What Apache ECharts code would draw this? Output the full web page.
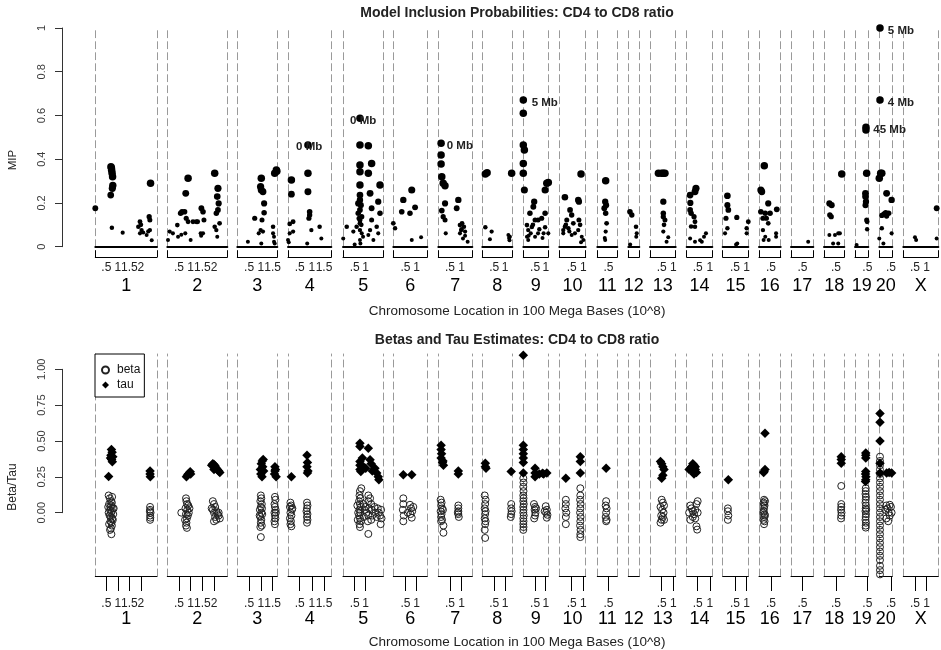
<!DOCTYPE html>
<html><head><meta charset="utf-8">
<script src="https://cdn.jsdelivr.net/npm/echarts@6/dist/echarts.min.js"></script>
<style>html,body{margin:0;padding:0;background:#fff}#c{width:941px;height:650px}</style>
</head><body><div id="c"></div>
<script>
// ---------------- DATA ----------------
const chromosomes = ['1','2','3','4','5','6','7','8','9','10','11','12','13','14','15','16','17','18','19','20','X'];
// x tick values (100 Mb units) per chromosome
const chromTicks = [[.5,1,1.5,2],[.5,1,1.5,2],[.5,1,1.5],[.5,1,1.5],[.5,1,1.5],[.5,1],[.5,1],[.5,1],[.5,1],[.5,1],[.5],[],[.5,1],[.5,1],[.5,1],[.5],[.5],[.5],[.5],[.5],[.5,1]];
// displayed position range (100 Mb units) per chromosome panel
const posMin = [0.02,0.00,0.00,0.02,-0.03,-0.05,0.00,-0.05,-0.05,-0.03,0.02,0.02,0.00,0.05,-0.02,-0.02,0.01,-0.01,-0.03,-0.01,0.00];
const posMax = [2.70,2.57,1.70,1.80,1.80,1.48,1.46,1.33,1.12,1.10,0.88,0.49,1.10,1.10,1.07,0.92,0.97,0.86,0.54,0.56,1.50];
const mipTicks = [0,0.2,0.4,0.6,0.8,1];
const betaTauTicks = [0,0.25,0.5,0.75,1];

// [chromosome, position (100 Mb), MIP]
const mipPoints = [
['1',0.02,0.176],['1',0.70,0.366],['1',0.72,0.36],['1',0.73,0.35],['1',0.75,0.336],['1',0.77,0.32],['1',0.78,0.28],['1',0.76,0.267],['1',0.69,0.236],['1',0.74,0.087],['1',1.21,0.064],['1',2.42,0.29],['1',1.96,0.114],['1',1.89,0.091],['1',1.96,0.061],['1',2.25,0.053],['1',2.36,0.137],['1',2.39,0.122],['1',2.39,0.076],['1',2.47,0.03],['1',2.03,0.076],['1',2.32,0.07],['1',2.00,0.100],['1',2.10,0.065],
['2',0.03,0.031],['2',0.10,0.069],['2',0.24,0.061],['2',0.43,0.099],['2',0.46,0.046],['2',0.57,0.153],['2',0.63,0.16],['2',0.74,0.16],['2',0.77,0.061],['2',0.79,0.244],['2',0.89,0.313],['2',0.81,0.13],['2',0.89,0.114],['2',1.00,0.031],['2',1.10,0.114],['2',1.24,0.114],['2',1.30,0.114],['2',1.43,0.061],['2',1.46,0.176],['2',1.53,0.16],['2',1.57,0.122],['2',1.53,0.061],['2',2.03,0.336],['2',2.17,0.267],['2',2.14,0.229],['2',2.20,0.198],['2',2.17,0.168],['2',2.10,0.153],['2',2.24,0.107],['2',2.10,0.076],['2',2.14,0.046],['2',2.03,0.091],['2',0.60,0.055],['2',1.45,0.05],
['3',0.45,0.023],['3',0.74,0.13],['3',1.02,0.313],['3',0.99,0.274],['3',1.02,0.259],['3',1.09,0.251],['3',1.14,0.198],['3',1.14,0.155],['3',1.05,0.122],['3',0.99,0.076],['3',1.09,0.069],['3',0.91,0.061],['3',1.52,0.091],['3',1.52,0.061],['3',1.56,0.046],['3',1.56,0.023],['3',1.66,0.351],['3',1.59,0.336],['3',1.68,0.345],['3',1.02,0.015],['3',1.59,0.015],
['4',0.16,0.305],['4',0.16,0.24],['4',0.23,0.114],['4',0.09,0.104],['4',0.09,0.061],['4',0.23,0.069],['4',0.02,0.031],['4',0.84,0.465],['4',0.84,0.336],['4',0.84,0.251],['4',0.91,0.16],['4',0.91,0.145],['4',0.88,0.13],['4',0.98,0.076],['4',0.81,0.015],['4',1.32,0.091],['4',1.39,0.038],['4',0.05,0.02],
['5',0.74,0.587],['5',0.74,0.465],['5',1.12,0.462],['5',0.74,0.374],['5',1.27,0.381],['5',0.74,0.343],['5',1.12,0.336],['5',1.65,0.282],['5',0.74,0.282],['5',1.20,0.244],['5',0.74,0.236],['5',0.74,0.214],['5',0.66,0.198],['5',1.57,0.206],['5',1.27,0.176],['5',0.74,0.168],['5',0.66,0.153],['5',0.82,0.137],['5',0.74,0.122],['5',0.74,0.107],['5',0.59,0.091],['5',0.74,0.076],['5',0.44,0.069],['5',0.82,0.061],['5',0.88,0.046],['5',0.74,0.031],['5',0.14,0.091],['5',-0.02,0.038],['5',1.65,0.153],['5',1.50,0.091],['5',1.57,0.061],['5',1.20,0.076],['5',1.35,0.031],['5',1.12,0.053],['5',1.27,0.122],['5',0.78,0.19],['5',0.70,0.13],['5',0.80,0.10],['5',0.76,0.015],['5',0.50,0.01],
['6',-0.05,0.107],['6',0.03,0.084],['6',0.40,0.214],['6',0.33,0.16],['6',0.70,0.153],['6',0.78,0.259],['6',0.93,0.18],['6',0.78,0.031],['6',1.20,0.043],
['7',0.12,0.473],['7',0.12,0.419],['7',0.12,0.378],['7',0.15,0.32],['7',0.21,0.29],['7',0.29,0.279],['7',0.29,0.198],['7',0.15,0.165],['7',0.21,0.137],['7',0.29,0.122],['7',0.32,0.061],['7',0.86,0.214],['7',0.79,0.176],['7',0.93,0.099],['7',1.02,0.107],['7',1.10,0.091],['7',0.98,0.076],['7',1.15,0.069],['7',0.93,0.061],['7',1.06,0.038],['7',1.26,0.023],['7',1.15,0.05],['7',1.00,0.08],
['8',0.09,0.332],['8',0.17,0.338],['8',0.09,0.089],['8',0.38,0.069],['8',0.30,0.034],['8',1.30,0.336],['8',1.15,0.053],['8',1.22,0.046],['8',1.18,0.04],['8',1.20,0.03],
['9',-0.05,0.671],['9',-0.05,0.61],['9',-0.05,0.465],['9',0.00,0.442],['9',-0.05,0.381],['9',-0.05,0.336],['9',0.00,0.259],['9',0.46,0.206],['9',0.42,0.183],['9',0.26,0.153],['9',0.50,0.122],['9',0.64,0.122],['9',0.81,0.13],['9',0.97,0.153],['9',1.05,0.29],['9',1.12,0.293],['9',0.97,0.259],['9',0.12,0.099],['9',0.18,0.076],['9',0.30,0.061],['9',0.64,0.061],['9',0.90,0.061],['9',0.12,0.046],['9',0.50,0.046],['9',0.18,0.031],['9',1.12,0.061],['9',0.97,0.089],['9',0.35,0.09],['9',0.70,0.08],['9',0.40,0.10],['9',0.85,0.04],['9',0.20,0.05],
['10',0.21,0.226],['10',0.43,0.168],['10',0.50,0.145],['10',0.29,0.122],['10',0.21,0.091],['10',0.14,0.076],['10',0.36,0.084],['10',0.57,0.107],['10',0.64,0.061],['10',0.50,0.053],['10',0.78,0.214],['10',0.81,0.206],['10',0.90,0.332],['10',0.81,0.122],['10',0.78,0.076],['10',0.93,0.046],['10',1.00,0.031],['10',0.14,0.061],['10',0.25,0.10],['10',0.40,0.07],['10',0.86,0.10],['10',0.90,0.02],
['11',0.38,0.302],['11',0.36,0.206],['11',0.32,0.176],['11',0.38,0.153],['11',0.42,0.107],['11',0.38,0.069],['11',0.36,0.031],['11',0.40,0.19],['11',0.34,0.04],
['12',0.09,0.16],['12',0.17,0.145],['12',0.35,0.091],['12',0.38,0.061],['12',0.36,0.046],['12',0.10,0.01],
['13',0.36,0.336],['13',0.50,0.336],['13',0.57,0.336],['13',0.64,0.336],['13',0.57,0.206],['13',0.57,0.137],['13',0.64,0.122],['13',0.57,0.153],['13',0.57,0.069],['13',0.78,0.043],['13',0.71,0.023],['13',0.60,0.10],
['14',0.43,0.267],['14',0.39,0.251],['14',0.19,0.236],['14',0.19,0.168],['14',0.23,0.153],['14',0.35,0.137],['14',0.39,0.114],['14',0.39,0.091],['14',0.23,0.092],['14',0.19,0.038],['14',0.39,0.023],['14',0.67,0.023],['14',0.76,0.046],['14',0.84,0.061],['14',0.60,0.03],['14',0.20,0.20],
['15',0.18,0.233],['15',0.18,0.19],['15',0.22,0.168],['15',0.18,0.084],['15',0.08,0.061],['15',0.58,0.134],['15',0.60,0.015],['15',1.07,0.114],['15',1.00,0.084],['15',1.00,0.061],['15',0.12,0.13],['15',0.55,0.01],
['16',0.21,0.37],['16',0.06,0.259],['16',0.10,0.251],['16',0.38,0.198],['16',0.06,0.16],['16',0.25,0.153],['16',0.46,0.153],['16',0.75,0.171],['16',0.15,0.13],['16',0.30,0.13],['16',0.38,0.107],['16',0.15,0.076],['16',0.25,0.046],['16',0.18,0.031],['16',0.72,0.061],['16',0.72,0.046],['16',0.40,0.031],
['17',0.75,0.023],
['18',0.22,0.198],['18',0.32,0.19],['18',0.24,0.145],['18',0.30,0.137],['18',0.22,0.053],['18',0.46,0.053],['18',0.60,0.061],['18',0.67,0.061],['18',0.75,0.332],['18',0.38,0.015],['18',0.60,0.015],
['19',0.44,0.546],['19',0.44,0.534],['19',0.47,0.336],['19',0.42,0.244],['19',0.42,0.229],['19',0.44,0.206],['19',0.42,0.19],['19',0.47,0.122],['19',0.49,0.114],['19',0.49,0.08],['19',0.04,0.008],
['20',0.02,1.0],['20',0.02,0.671],['20',0.05,0.336],['20',0.10,0.336],['20',-0.01,0.313],['20',0.31,0.244],['20',0.53,0.214],['20',0.10,0.143],['20',0.27,0.155],['20',0.40,0.153],['20',0.31,0.14],['20',0.10,0.084],['20',0.53,0.061],['20',-0.01,0.038],['20',0.17,0.015],['20',0.20,0.15],
['X',0.50,0.043],['X',0.55,0.031],['X',1.43,0.176],['X',1.43,0.038]
];

// [chromosome, label anchor position, MIP height, text]
const peakLabels = [
['4',0.35,0.456,'0 Mb'],['5',0.29,0.575,'0 Mb'],['7',0.36,0.46,'0 Mb'],['9',0.34,0.657,'5 Mb'],
['19',0.755,0.534,'45 Mb'],['20',0.36,0.988,'5 Mb'],['20',0.36,0.656,'4 Mb']
];

// [chromosome, position, beta]
const betaPoints = [
['1',0.60,0.12],['1',0.65,0.10],['1',0.70,0.08],['1',0.75,0.11],['1',0.62,0.06],['1',0.68,0.04],['1',0.72,0.05],['1',0.78,0.03],['1',0.66,0.02],['1',0.70,0.00],['1',0.74,0.01],['1',0.80,-0.01],['1',0.64,-0.02],['1',0.70,-0.03],['1',0.76,-0.04],['1',0.68,-0.06],['1',0.72,-0.07],['1',0.62,-0.08],['1',0.74,-0.09],['1',0.70,-0.11],['1',0.66,-0.12],['1',0.72,-0.15],['1',0.60,0.00],['1',0.82,0.03],['1',0.78,-0.05],['1',0.58,0.04],['1',0.74,0.07],
['1',2.40,0.04],['1',2.40,0.02],['1',2.42,0.00],['1',2.40,-0.02],['1',2.41,-0.035],['1',2.40,-0.05],['1',2.39,0.01],
['2',0.80,0.10],['2',0.82,0.08],['2',0.85,0.06],['2',0.90,0.05],['2',0.78,0.03],['2',0.86,0.02],['2',0.92,0.00],['2',0.80,-0.01],['2',0.88,-0.02],['2',0.84,-0.04],['2',0.76,-0.05],['2',0.82,-0.07],['2',0.80,-0.09],['2',0.84,-0.106],['2',0.95,0.03],['2',0.60,0.00],
['2',1.95,0.08],['2',2.00,0.06],['2',2.05,0.04],['2',1.95,0.02],['2',2.10,0.01],['2',2.00,0.00],['2',2.15,-0.01],['2',2.20,-0.02],['2',2.05,-0.03],['2',2.25,-0.04],['2',2.10,-0.05],['2',2.00,-0.06],['2',2.20,0.00],['2',1.90,0.03],
['3',1.00,0.12],['3',1.02,0.10],['3',0.98,0.08],['3',1.04,0.06],['3',1.00,0.04],['3',0.96,0.02],['3',1.02,0.00],['3',1.06,-0.01],['3',0.98,-0.03],['3',1.02,-0.05],['3',1.00,-0.07],['3',1.04,-0.09],['3',0.98,-0.10],['3',1.00,-0.17],['3',1.05,0.03],['3',0.95,-0.02],
['3',1.60,0.11],['3',1.62,0.09],['3',1.58,0.06],['3',1.60,0.04],['3',1.63,0.02],['3',1.58,0.00],['3',1.60,-0.02],['3',1.62,-0.04],['3',1.58,-0.06],['3',1.60,-0.08],['3',1.64,0.00],
['4',0.12,0.07],['4',0.15,0.05],['4',0.10,0.04],['4',0.18,0.02],['4',0.12,0.00],['4',0.16,-0.02],['4',0.10,-0.04],['4',0.14,-0.06],['4',0.12,-0.08],['4',0.16,-0.095],['4',0.20,0.03],
['4',0.80,0.07],['4',0.82,0.05],['4',0.80,0.03],['4',0.78,0.01],['4',0.82,-0.01],['4',0.80,-0.03],['4',0.82,-0.05],['4',0.80,-0.07],
['5',0.74,0.15],['5',0.72,0.12],['5',0.76,0.10],['5',0.70,0.08],['5',0.74,0.06],['5',0.78,0.04],['5',0.72,0.02],['5',0.76,0.00],['5',0.70,-0.02],['5',0.74,-0.04],['5',0.78,-0.06],['5',0.72,-0.08],['5',0.74,-0.10],['5',0.62,0.05],['5',0.66,0.00],['5',0.64,-0.05],['5',0.90,0.06],['5',0.95,0.02],['5',0.92,-0.03],['5',1.00,0.04],['5',1.05,0.00],['5',1.12,0.12],['5',1.12,0.08],['5',1.15,0.03],['5',1.12,-0.02],['5',1.10,-0.06],['5',1.12,-0.148],['5',1.20,0.10],['5',1.25,0.06],['5',1.28,0.02],['5',1.30,-0.02],['5',1.25,-0.05],['5',1.40,0.04],['5',1.45,0.00],['5',1.50,-0.03],['5',1.55,0.03],['5',1.60,0.00],['5',1.65,-0.02],['5',1.70,0.02],['5',1.72,-0.04],['5',1.68,-0.08],['5',0.80,0.17],
['6',0.40,0.10],['6',0.40,0.06],['6',0.38,0.02],['6',0.42,-0.02],['6',0.40,-0.06],['6',0.70,0.055],['6',0.75,0.03],['6',0.80,0.01],['6',0.72,-0.01],['6',0.78,-0.035],['6',0.85,0.04],['6',0.60,0.00],
['7',0.10,0.09],['7',0.14,0.07],['7',0.12,0.05],['7',0.16,0.03],['7',0.10,0.01],['7',0.14,-0.01],['7',0.12,-0.03],['7',0.16,-0.05],['7',0.12,-0.06],['7',0.22,-0.09],['7',0.22,-0.14],['7',0.20,0.02],['7',0.86,0.05],['7',0.86,0.03],['7',0.86,0.01],['7',0.86,-0.01],['7',0.88,-0.03],['7',0.84,0.00],
['8',0.06,0.12],['8',0.10,0.09],['8',0.08,0.06],['8',0.06,0.03],['8',0.10,0.01],['8',0.08,-0.01],['8',0.06,-0.04],['8',0.10,-0.06],['8',0.08,-0.08],['8',0.06,-0.12],['8',0.08,-0.176],['8',1.28,0.06],['8',1.28,0.03],['8',1.30,0.01],['8',1.28,-0.01],['8',1.26,-0.03],
['9',-0.05,0.24],['9',-0.04,0.21],['9',-0.05,0.18],['9',-0.04,0.15],['9',-0.05,0.12],['9',-0.04,0.10],['9',-0.05,0.08],['9',-0.03,0.06],['9',-0.05,0.04],['9',-0.04,0.02],['9',-0.05,0.00],['9',-0.03,-0.02],['9',-0.05,-0.04],['9',-0.04,-0.06],['9',-0.05,-0.08],['9',-0.04,-0.10],['9',-0.05,-0.12],
['9',0.45,0.06],['9',0.50,0.04],['9',0.48,0.02],['9',0.52,0.00],['9',0.50,-0.02],['9',0.46,-0.04],['9',0.55,0.03],['9',1.00,0.045],['9',1.05,0.02],['9',1.02,0.00],['9',1.08,-0.015],['9',1.05,-0.035],['9',0.95,0.01],
['10',0.25,0.09],['10',0.25,0.06],['10',0.23,0.03],['10',0.27,0.00],['10',0.25,-0.03],['10',0.25,-0.08],['10',0.87,0.17],['10',0.87,0.12],['10',0.86,0.09],['10',0.88,0.06],['10',0.87,0.03],['10',0.86,0.00],['10',0.88,-0.03],['10',0.87,-0.06],['10',0.86,-0.09],['10',0.88,-0.12],['10',0.87,-0.15],['10',0.87,-0.17],
['11',0.40,0.08],['11',0.38,0.05],['11',0.42,0.03],['11',0.40,0.00],['11',0.38,-0.03],['11',0.42,-0.05],['11',0.40,-0.06],
['13',0.50,0.09],['13',0.55,0.07],['13',0.60,0.05],['13',0.45,0.04],['13',0.52,0.02],['13',0.58,0.00],['13',0.48,-0.02],['13',0.55,-0.03],['13',0.60,-0.05],['13',0.45,-0.07],['13',0.50,-0.05],
['14',0.20,0.05],['14',0.25,0.03],['14',0.30,0.01],['14',0.35,-0.01],['14',0.40,0.02],['14',0.45,0.06],['14',0.50,0.08],['14',0.30,-0.03],['14',0.20,-0.05],['14',0.40,-0.04],['14',0.45,-0.095],['14',0.48,-0.118],['14',0.15,0.00],['14',0.50,0.00],
['15',0.20,0.03],['15',0.20,0.01],['15',0.22,-0.02],['15',0.20,-0.05],
['16',0.20,0.09],['16',0.18,0.07],['16',0.22,0.05],['16',0.20,0.03],['16',0.18,0.01],['16',0.22,-0.01],['16',0.20,-0.03],['16',0.18,-0.05],['16',0.22,-0.06],['16',0.20,-0.08],['16',0.24,0.08],['16',0.16,0.00],['16',0.24,-0.02],['16',0.20,0.06],
['18',0.73,0.186],['18',0.73,0.06],['18',0.73,0.04],['18',0.72,0.02],['18',0.74,0.00],['18',0.73,-0.02],['18',0.72,-0.04],
['19',0.43,0.17],['19',0.43,0.15],['19',0.42,0.13],['19',0.44,0.11],['19',0.43,0.09],['19',0.42,0.07],['19',0.44,0.05],['19',0.43,0.03],['19',0.42,0.01],['19',0.44,-0.01],['19',0.43,-0.03],['19',0.42,-0.05],['19',0.44,-0.07],['19',0.43,-0.09],['19',0.43,-0.104],['19',0.45,0.02],
['20',0.02,0.39],['20',0.02,0.36],['20',0.02,0.33],['20',0.02,0.30],['20',0.02,0.27],['20',0.02,0.24],['20',0.02,0.21],['20',0.02,0.18],['20',0.02,0.15],['20',0.02,0.12],['20',0.02,0.09],['20',0.02,0.06],['20',0.02,0.03],['20',0.02,0.00],['20',0.02,-0.03],['20',0.02,-0.06],['20',0.02,-0.09],['20',0.02,-0.12],['20',0.02,-0.15],['20',0.02,-0.18],['20',0.02,-0.21],['20',0.02,-0.24],['20',0.02,-0.27],['20',0.02,-0.30],['20',0.02,-0.33],['20',0.02,-0.37],['20',0.02,-0.40],['20',0.02,-0.43],
['20',0.30,0.05],['20',0.35,0.03],['20',0.40,0.00],['20',0.45,-0.02],['20',0.50,0.04],['20',0.53,0.00],['20',0.30,-0.04],['20',0.38,-0.06],['20',0.45,0.055],['20',0.25,0.02]
];

// [chromosome, position, tau]
const tauPoints = [
['1',0.60,0.252],['1',0.72,0.44],['1',0.75,0.42],['1',0.70,0.40],['1',0.78,0.39],['1',0.73,0.37],['1',0.76,0.355],['1',0.68,0.38],['1',2.40,0.29],['1',2.40,0.27],['1',2.41,0.25],
['2',0.82,0.25],['2',0.86,0.26],['2',0.90,0.27],['2',0.94,0.275],['2',0.98,0.285],['2',1.00,0.27],['2',1.95,0.34],['2',2.00,0.335],['2',2.05,0.325],['2',2.10,0.31],['2',2.15,0.30],['2',2.20,0.29],['2',2.25,0.28],['2',2.00,0.30],['2',1.90,0.33],
['3',0.98,0.30],['3',1.02,0.34],['3',1.06,0.36],['3',1.10,0.37],['3',1.00,0.27],['3',1.05,0.25],['3',1.08,0.32],['3',1.12,0.29],['3',1.60,0.32],['3',1.62,0.30],['3',1.58,0.27],['3',1.65,0.25],['3',1.60,0.29],
['4',0.16,0.25],['4',0.80,0.40],['4',0.82,0.35],['4',0.80,0.32],['4',0.84,0.29],['4',0.82,0.276],
['5',0.74,0.484],['5',0.74,0.46],['5',1.12,0.449],['5',0.74,0.356],['5',0.74,0.33],['5',0.74,0.30],['5',0.78,0.287],['5',1.20,0.368],['5',1.25,0.34],['5',1.42,0.31],['5',1.50,0.276],['5',1.57,0.25],['5',1.60,0.229],['5',0.90,0.32],['5',1.00,0.31],['5',1.30,0.29],['5',0.85,0.38],
['6',0.40,0.264],['6',0.78,0.264],
['7',0.12,0.47],['7',0.12,0.44],['7',0.14,0.41],['7',0.12,0.38],['7',0.18,0.35],['7',0.22,0.33],['7',0.20,0.36],['7',0.86,0.29],['7',0.86,0.27],
['8',0.09,0.345],['8',0.09,0.32],['8',0.12,0.31],['8',1.28,0.287],
['9',-0.05,1.097],['9',-0.05,0.47],['9',-0.05,0.44],['9',-0.05,0.41],['9',-0.05,0.38],['9',-0.05,0.35],['9',-0.05,0.276],['9',0.50,0.31],['9',0.50,0.276],['9',0.50,0.25],['9',1.05,0.276],['9',0.90,0.27],['9',0.70,0.27],['9',0.85,0.275],
['10',0.25,0.24],['10',0.87,0.39],['10',0.87,0.356],['10',0.87,0.276],
['11',0.40,0.31],
['13',0.45,0.356],['13',0.50,0.34],['13',0.55,0.32],['13',0.60,0.30],['13',0.55,0.26],['13',0.50,0.24],
['14',0.15,0.30],['14',0.20,0.31],['14',0.25,0.32],['14',0.30,0.34],['14',0.35,0.33],['14',0.40,0.30],['14',0.45,0.28],['14',0.35,0.27],['14',0.30,0.29],['14',0.40,0.32],
['15',0.22,0.229],
['16',0.24,0.553],['16',0.20,0.287],['16',0.24,0.30],['16',0.18,0.28],
['18',0.73,0.39],['18',0.73,0.37],['18',0.73,0.345],
['19',0.43,0.415],['19',0.43,0.40],['19',0.43,0.38],['19',0.43,0.287],['19',0.42,0.27],['19',0.44,0.25],['19',0.43,0.23],['19',0.42,0.217],
['20',0.02,0.69],['20',0.02,0.63],['20',0.02,0.50],['20',0.02,0.345],['20',0.02,0.276],['20',0.31,0.276],['20',0.53,0.276],['20',0.42,0.28]
];

// ---------------- LAYOUT (pixels) ----------------
const boxLeft  = [95.3,167.3,237.3,288,343,393.3,438.3,482.3,523.3,559.3,597.3,628.3,650,686.7,722.7,759,791,824,855,879.3,903.3];
const boxRight = [157,227.3,277.3,331.3,383.3,427.3,472.3,512.3,548.3,585.7,617.3,639.3,675.7,712.3,748.3,780.7,813.3,844.3,868.3,892.3,938.3];
const TOP = {top: 28, height: 218.7};
const BOT = {top: 354, height: 222};
const BOT_Y = {min: -0.441, max: 1.105};
const FONT = '"Liberation Sans", Arial, Helvetica, sans-serif';
const DASH = [7, 4];

const fmtTick = v => { const s = String(v); return s.indexOf('0.') === 0 ? s.slice(1) : s; };

const grids = [], xAxes = [], yAxes = [], series = [];
function addGrid(g) { grids.push(Object.assign({outerBoundsMode: 'none', containLabel: false}, g)); return grids.length - 1; }
function dashedY(gi, min, max, position) {
  return {gridIndex: gi, type: 'value', min, max, position,
    axisLine: {show: true, onZero: false, lineStyle: {color: '#9a9a9a', width: 1, type: DASH}},
    axisTick: {show: false}, axisLabel: {show: false}, splitLine: {show: false}};
}

// stand-alone y axes (left side)
let g = addGrid({left: 62, width: 20, top: TOP.top, height: TOP.height});
xAxes.push({gridIndex: g, type: 'value', show: false, min: 0, max: 1});
yAxes.push({gridIndex: g, type: 'value', min: 0, max: 1, position: 'left',
  axisLine: {show: true, onZero: false, lineStyle: {color: '#333'}},
  axisTick: {show: true, length: 7, customValues: mipTicks, lineStyle: {color: '#333'}},
  axisLabel: {rotate: 90, margin: 15, fontSize: 11, color: '#3c3c3c', fontFamily: FONT, customValues: mipTicks},
  splitLine: {show: false}});

g = addGrid({left: 62, width: 20, top: 369.3, height: 143.4});
xAxes.push({gridIndex: g, type: 'value', show: false, min: 0, max: 1});
yAxes.push({gridIndex: g, type: 'value', min: 0, max: 1, position: 'left',
  axisLine: {show: true, onZero: false, lineStyle: {color: '#333'}},
  axisTick: {show: true, length: 7, customValues: betaTauTicks, lineStyle: {color: '#333'}},
  axisLabel: {rotate: 90, margin: 15, fontSize: 11, color: '#3c3c3c', fontFamily: FONT, customValues: betaTauTicks, formatter: v => v.toFixed(2)},
  splitLine: {show: false}});

const mipSize = d => Math.max(4, Math.min(7.5, 3.2 + d[1] * 15));

chromosomes.forEach((chr, i) => {
  const L = boxLeft[i], W = boxRight[i] - boxLeft[i];
  const a = posMin[i], b = posMax[i];

  // ---- top panel ----
  const gt = addGrid({left: L, width: W, top: TOP.top, height: TOP.height});
  const xt = xAxes.length;
  xAxes.push({gridIndex: gt, type: 'value', min: a, max: b, position: 'bottom', offset: 10.5,
    axisLine: {show: true, onZero: false, lineStyle: {color: '#000', width: 1}},
    axisTick: {show: true, inside: true, length: 7, customValues: [a, b], lineStyle: {color: '#000'}},
    axisLabel: {show: true, customValues: chromTicks[i], formatter: fmtTick, margin: 4.5, fontSize: 12, color: '#222', fontFamily: FONT},
    splitLine: {show: false},
    name: chr, nameLocation: 'middle', nameGap: 20, nameMoveOverlap: false,
    nameTextStyle: {fontSize: 18, color: '#000', fontFamily: FONT}});
  xAxes.push({gridIndex: gt, type: 'value', min: a, max: b, position: 'bottom', offset: 0,
    axisLine: {show: true, onZero: false, lineStyle: {color: '#000', width: 2}},
    axisTick: {show: false}, axisLabel: {show: false}, splitLine: {show: false}});
  const yt = yAxes.length;
  yAxes.push(dashedY(gt, 0, 1, 'left'));
  yAxes.push(dashedY(gt, 0, 1, 'right'));
  const md = mipPoints.filter(p => p[0] === chr).map(p => [p[1], p[2]]);
  if (md.length) series.push({type: 'scatter', name: 'MIP', xAxisIndex: xt, yAxisIndex: yt, data: md,
    symbol: 'circle', symbolSize: mipSize, itemStyle: {color: '#000', opacity: 1}, clip: false, silent: true});
  const ld = peakLabels.filter(p => p[0] === chr).map(p => [p[1], p[2], p[3]]);
  if (ld.length) series.push({type: 'scatter', name: 'lbl', xAxisIndex: xt, yAxisIndex: yt, data: ld,
    symbolSize: 0.1, itemStyle: {color: 'rgba(0,0,0,0)', opacity: 1}, clip: false, silent: true, z: 5,
    label: {show: true, position: 'right', distance: 0, formatter: p => p.data[2], opacity: 1,
      fontSize: 11.5, fontWeight: 'bold', color: '#222', fontFamily: FONT}});

  // ---- bottom panel ----
  const gb = addGrid({left: L, width: W, top: BOT.top, height: BOT.height});
  const xb = xAxes.length;
  xAxes.push({gridIndex: gb, type: 'value', min: a, max: b, position: 'bottom', offset: 0,
    axisLine: {show: true, onZero: false, lineStyle: {color: '#000', width: 1}},
    axisTick: {show: true, inside: false, length: 15, customValues: chromTicks[i], lineStyle: {color: '#000'}},
    axisLabel: {show: true, customValues: chromTicks[i], formatter: fmtTick, margin: 22, fontSize: 12, color: '#222', fontFamily: FONT},
    splitLine: {show: false},
    name: chr, nameLocation: 'middle', nameGap: 34, nameMoveOverlap: false,
    nameTextStyle: {fontSize: 18, color: '#000', fontFamily: FONT}});
  const yb = yAxes.length;
  yAxes.push(dashedY(gb, BOT_Y.min, BOT_Y.max, 'left'));
  yAxes.push(dashedY(gb, BOT_Y.min, BOT_Y.max, 'right'));
  const bd = betaPoints.filter(p => p[0] === chr).map(p => [p[1], p[2]]);
  const td = tauPoints.filter(p => p[0] === chr).map(p => [p[1], p[2]]);
  series.push({type: 'scatter', name: 'beta', xAxisIndex: xb, yAxisIndex: yb, data: bd,
    symbol: 'circle', symbolSize: 7, clip: false, silent: true,
    itemStyle: {color: 'rgba(255,255,255,0)', borderColor: '#222', borderWidth: 1, opacity: 1}});
  series.push({type: 'scatter', name: 'tau', xAxisIndex: xb, yAxisIndex: yb, data: td,
    symbol: 'diamond', symbolSize: 9.5, clip: false, silent: true, z: 3,
    itemStyle: {color: '#000', opacity: 1}});
});

function txt(text, x, y, font, extra) {
  return Object.assign({type: 'text', x, y, silent: true,
    style: {text, font, fill: '#222', align: 'center', verticalAlign: 'middle', textAlign: 'center', textVerticalAlign: 'middle'}}, extra || {});
}

const option = {
  animation: false,
  backgroundColor: '#fff',
  textStyle: {fontFamily: FONT},
  grid: grids, xAxis: xAxes, yAxis: yAxes, series,
  legend: {data: ['beta', 'tau'], left: 95, top: 354, orient: 'vertical', selectedMode: false,
    backgroundColor: '#fff', borderColor: '#000', borderWidth: 1, borderRadius: 0,
    padding: [10, 4, 6, 6], itemGap: 3, itemWidth: 7, itemHeight: 7,
    textStyle: {fontSize: 12, color: '#111', fontFamily: FONT, padding: [0, 0, 0, 3]}},
  graphic: {elements: [
    txt('Model Inclusion Probabilities: CD4 to CD8 ratio', 517, 13, 'bold 14px ' + FONT),
    txt('Betas and Tau Estimates: CD4 to CD8 ratio', 517, 340, 'bold 14px ' + FONT),
    txt('Chromosome Location in 100 Mega Bases (10^8)', 517, 311, '13.5px ' + FONT),
    txt('Chromosome Location in 100 Mega Bases (10^8)', 517, 642, '13.5px ' + FONT),
    txt('MIP', 13, 160, '11.5px ' + FONT, {rotation: Math.PI / 2}),
    txt('Beta/Tau', 13, 487, '12px ' + FONT, {rotation: Math.PI / 2})
  ]}
};

const chart = echarts.init(document.getElementById('c'), null, {renderer: 'canvas'});
chart.setOption(option);
</script></body></html>
